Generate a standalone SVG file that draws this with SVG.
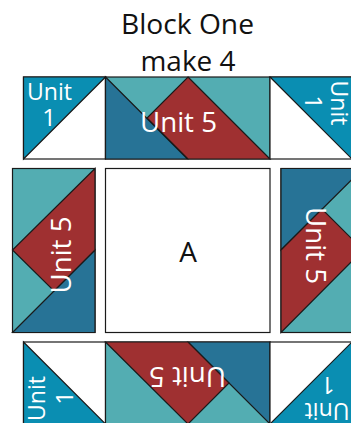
<svg xmlns="http://www.w3.org/2000/svg" width="351" height="423" viewBox="0 0 351 423">
<style>
.e{stroke:#1a1a1a;stroke-width:1.2;stroke-linejoin:miter}
.t{fill:#53adb2}.d{fill:#277396}.r{fill:#9f3031}.b{fill:#0a8eb2}.w{fill:#fff}
text{font-family:"Open Sans","Noto Sans",sans-serif;text-anchor:middle}
.lab{fill:#fff;font-size:28px}.u{fill:#fff;font-size:24px}.k{fill:#111;font-size:28px}
</style>
<rect width="351" height="423" fill="#fff"/>
<g id="title"><text class="k" x="187.500" y="33.500" textLength="133" lengthAdjust="spacingAndGlyphs">Block One</text><text class="k" x="188" y="71" textLength="95" lengthAdjust="spacingAndGlyphs">make 4</text></g>
<g id="unit1-top-left"><rect class="w e" x="23.500" y="77" width="82" height="82"/><path class="b e" d="M23.500 77H105.500L23.500 159Z"/><text class="u" x="49.500" y="99.500" textLength="45" lengthAdjust="spacingAndGlyphs">Unit</text><text class="u" x="49" y="125.500">1</text></g>
<g id="unit5-top"><rect class="t e" x="105.500" y="77" width="164.500" height="82"/><path class="d e" d="M105.500 77L187.500 159H105.500Z"/><path class="r e" d="M188 77L270 159H188L147 118Z"/><text class="lab" x="178.500" y="132" textLength="77" lengthAdjust="spacingAndGlyphs">Unit 5</text></g>
<g id="unit1-top-right"><rect class="w e" x="270" y="77" width="82" height="82"/><path class="b e" d="M270 77H352V159Z"/><text class="u" transform="translate(331 103) rotate(90)" textLength="45" lengthAdjust="spacingAndGlyphs">Unit</text><text class="u" transform="translate(305 102) rotate(90)">1</text></g>
<g id="unit5-left"><rect class="t e" x="12.500" y="168.500" width="82.500" height="164"/><path class="d e" d="M12.500 332.500L95 250V332.500Z"/><path class="r e" d="M95 168.500V250L54 291L12.500 250Z"/><text class="lab" transform="translate(70.500 255) rotate(-90)" textLength="77" lengthAdjust="spacingAndGlyphs">Unit 5</text></g>
<g id="block-a"><rect class="w e" x="105.500" y="168.500" width="164.500" height="164"/><text class="k" x="188" y="262">A</text></g>
<g id="unit5-right"><rect class="t e" x="281" y="168.500" width="82" height="164"/><path class="d e" d="M281 168.500H363L281 250Z"/><path class="r e" d="M281 250L322 209L363 250L281 332.500Z"/><text class="lab" transform="translate(306 245.500) rotate(90)" textLength="77" lengthAdjust="spacingAndGlyphs">Unit 5</text></g>
<g id="unit1-bottom-left"><rect class="w e" x="23.500" y="342" width="82" height="82"/><path class="b e" d="M23.500 342L105.500 424H23.500Z"/><text class="u" transform="translate(45 398.500) rotate(-90)" textLength="45" lengthAdjust="spacingAndGlyphs">Unit</text><text class="u" transform="translate(73 398) rotate(-90)">1</text></g>
<g id="unit5-bottom"><rect class="t e" x="105.500" y="342" width="164.500" height="82"/><path class="d e" d="M188 342H270V424Z"/><path class="r e" d="M105.500 342H188L229 383L188 424Z"/><text class="lab" transform="translate(187.500 367) rotate(180)" textLength="77" lengthAdjust="spacingAndGlyphs">Unit 5</text></g>
<g id="unit1-bottom-right"><rect class="w e" x="270" y="342" width="82" height="82"/><path class="b e" d="M352 342V424H270Z"/><text class="u" transform="translate(327 403) rotate(180)" textLength="45" lengthAdjust="spacingAndGlyphs">Unit</text><text class="u" transform="translate(328 377) rotate(180)">1</text></g>
</svg>
